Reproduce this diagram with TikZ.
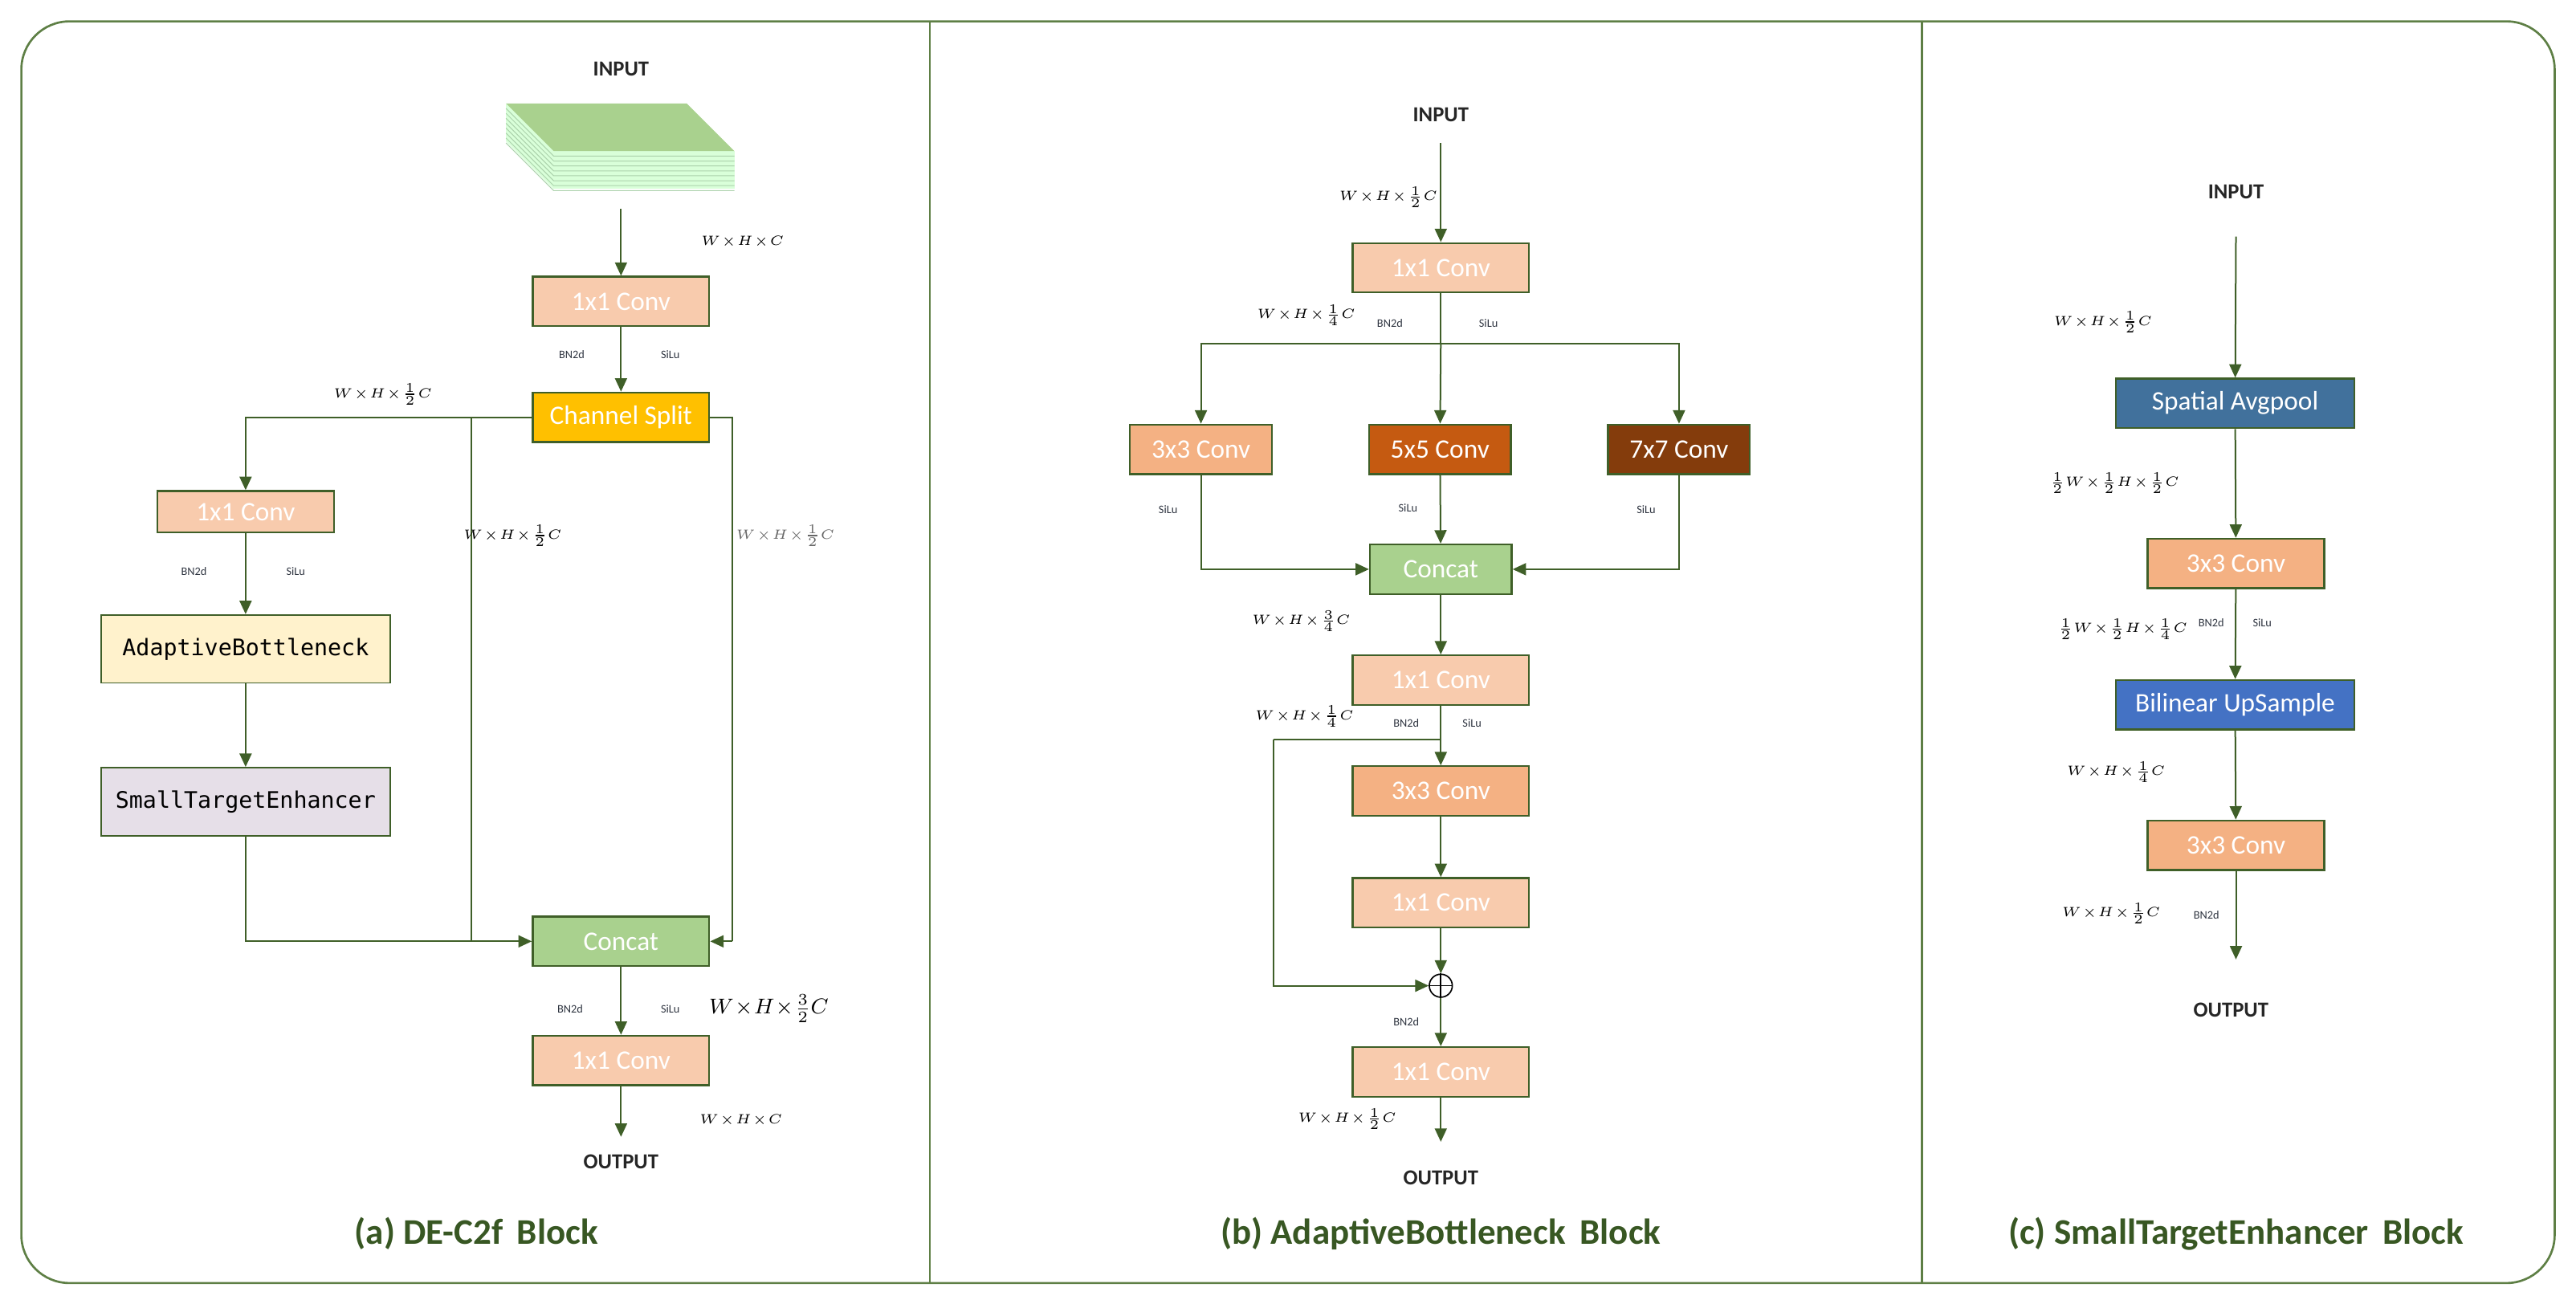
\documentclass[tikz,border=0pt]{standalone}
\usepackage{fontspec}
\setmainfont{Carlito}
\newfontfamily\monof{DejaVu Sans Mono}
\usetikzlibrary{arrows.meta}
\definecolor{frame}{HTML}{5E7F45}
\definecolor{arr}{HTML}{3F5F28}
\definecolor{peach}{HTML}{F8CBAD}
\definecolor{orange1}{HTML}{F4B183}
\definecolor{orange2}{HTML}{C55A11}
\definecolor{brown1}{HTML}{843C0C}
\definecolor{gold}{HTML}{FFC000}
\definecolor{lgreen}{HTML}{A9D18E}
\definecolor{cream}{HTML}{FFF2CC}
\definecolor{lav}{HTML}{E6DFE8}
\definecolor{steel}{HTML}{41719C}
\definecolor{blue1}{HTML}{4472C4}
\definecolor{ttl}{HTML}{385723}
\definecolor{tiny}{HTML}{2E3440}
\begin{document}
\begin{tikzpicture}[x=0.614pt,y=-0.614pt,
  box/.style={draw=arr,line width=0.7pt,text=white,font=\fontsize{10}{12}\selectfont,minimum height=18.5pt,inner sep=0pt},
  mbox/.style={draw=arr,line width=0.5pt,text=black,font=\monof\fontsize{8.5}{10}\selectfont,minimum height=25.5pt,minimum width=108pt,inner sep=0pt},
  ln/.style={draw=arr,line width=0.6pt},
  ar/.style={ln,-{Triangle[width=4.5pt,length=5pt]}},
  hd/.style={font=\bfseries\fontsize{8}{10}\selectfont,text=black!85},
  tl/.style={font=\bfseries\fontsize{13.5}{15}\selectfont,text=ttl},
  sm/.style={font=\fontsize{4.3}{5}\selectfont,text=tiny,inner sep=1pt},
  mt/.style={font=\fontsize{4.4}{5}\selectfont,inner sep=1pt},
]
\useasboundingbox (0,0) rectangle (1568,791);
% frame
\draw[frame,line width=0.8pt,rounded corners=18pt] (13,13) rectangle (1555,781);
\draw[frame,line width=0.8pt] (566,13) -- (566,781);
\draw[frame,line width=0.8pt] (1170,13) -- (1170,781);

% ================= (a)
\node[hd] (ain) at (378,42) {INPUT};
% feature stack
\fill[green!15!white] (308,63) -- (337,92) -- (337,115) -- (308,86) -- cycle;
\fill[green!15!white] (337,92) rectangle (447,115);
\foreach \k in {0,3,...,21}{
  \draw[green!30!gray!50,line width=0.3pt] (308,66+\k) -- (337,95+\k) -- (447,95+\k);}
\fill[lgreen] (308,63) -- (418,63) -- (447,92) -- (337,92) -- cycle;
\coordinate (astk) at (378,127);
\node[box,fill=peach,minimum width=66pt] (ac1) at (378,183.5) {1x1 Conv};
\draw[ar] (astk) -- (ac1);
\node[mt] at (452,147) {$W\!\times\! H\!\times\! C$};
\node[sm] at (348,216) {BN2d};
\node[sm] at (408,216) {SiLu};
\node[box,fill=gold,minimum width=66pt] (asp) at (378,254) {Channel Split};
\draw[ar] (ac1) -- (asp);
\node[mt] at (233,240) {$W\!\times\! H\!\times\!\frac{1}{2}C$};
\node[box,fill=peach,minimum width=66pt,minimum height=15.5pt] (ac2) at (149.5,311.5) {1x1 Conv};
\draw[ar] (asp.west) -| (ac2.north);
\node[sm] at (118,348) {BN2d};
\node[sm] at (180,348) {SiLu};
\node[mbox,fill=cream] (aab) at (149.5,395) {AdaptiveBottleneck};
\draw[ar] (ac2) -- (aab);
\node[mbox,fill=lav] (aste) at (149.5,488) {SmallTargetEnhancer};
\draw[ar] (aab) -- (aste);
\node[box,fill=lgreen,minimum width=66pt] (acat) at (378,573) {Concat};
\draw[ar] (aste.south) |- (acat.west);
\coordinate (aj) at (287,254);
\coordinate (aj2) at (287,573);
\draw[ln] (aj) -- (aj2);
\coordinate (ar1) at (446,254);
\coordinate (ar2) at (446,573);
\draw[ln] (asp.east) -- (ar1) -- (ar2);
\draw[ar] (ar2) -- (acat.east);
\node[mt] at (312,326) {$W\!\times\! H\!\times\!\frac{1}{2}C$};
\node[mt,font=\fontsize{3.4}{4}\selectfont,text=black!60] at (478,326) {$W\!\times\! H\!\times\!\frac{1}{2}C$};
\node[sm] at (347,614) {BN2d};
\node[sm] at (408,614) {SiLu};
\node[font=\fontsize{8.5}{10}\selectfont,inner sep=1pt] at (468,614) {$W\!\times\! H\!\times\!\frac{3}{2}C$};
\node[box,fill=peach,minimum width=66pt] (ac3) at (378,645.5) {1x1 Conv};
\draw[ar] (acat) -- (ac3);
\coordinate (aout) at (378,692);
\draw[ar] (ac3) -- (aout);
\node[mt] at (451,682) {$W\!\times\! H\!\times\! C$};
\node[hd] (aot) at (378,707) {OUTPUT};
\node[tl] (at) at (290,751) {(a) DE-C2f\, Block};

% ================= (b)
\node[hd] (bin) at (877,70) {INPUT};
\coordinate (bs) at (877,87);
\node[box,fill=peach,minimum width=66pt] (bc1) at (877,163) {1x1 Conv};
\draw[ar] (bs) -- (bc1);
\node[mt] at (845,120) {$W\!\times\! H\!\times\!\frac{1}{2}C$};
\node[mt] at (795,192) {$W\!\times\! H\!\times\!\frac{1}{4}C$};
\node[sm] at (846,197) {BN2d};
\node[sm] at (906,197) {SiLu};
\node[box,fill=orange1,minimum width=53pt] (b3) at (731,273.5) {3x3 Conv};
\node[box,fill=orange2,minimum width=53pt] (b5) at (876.5,273.5) {5x5 Conv};
\node[box,fill=brown1,minimum width=53pt] (b7) at (1022,273.5) {7x7 Conv};
\coordinate (bj) at (877,209);
\draw[ln] (bc1) -- (bj);
\draw[ar] (bj) -- (b5);
\draw[ar] (bj) -| (b3.north);
\draw[ar] (bj) -| (b7.north);
\node[sm] at (711,310) {SiLu};
\node[sm] at (857,309) {SiLu};
\node[sm] at (1002,310) {SiLu};
\node[box,fill=lgreen,minimum width=53pt] (bcat) at (877,346.5) {Concat};
\draw[ar] (b5) -- (bcat);
\draw[ar] (b3.south) |- (bcat.west);
\draw[ar] (b7.south) |- (bcat.east);
\node[mt] at (792,378) {$W\!\times\! H\!\times\!\frac{3}{4}C$};
\node[box,fill=peach,minimum width=66pt] (bc2) at (877,414) {1x1 Conv};
\draw[ar] (bcat) -- (bc2);
\node[mt] at (794,436) {$W\!\times\! H\!\times\!\frac{1}{4}C$};
\node[sm] at (856,440) {BN2d};
\node[sm] at (896,440) {SiLu};
\node[box,fill=orange1,minimum width=66pt] (bc3) at (877,481.5) {3x3 Conv};
\draw[ar] (bc2) -- (bc3);
\node[box,fill=peach,minimum width=66pt] (bc4) at (877,549.5) {1x1 Conv};
\draw[ar] (bc3) -- (bc4);
\node[circle,draw=black,line width=0.5pt,minimum size=8.6pt,inner sep=0pt] (bplus) at (877,600) {};
\draw[line width=0.5pt] (bplus.north) -- (bplus.south) (bplus.west) -- (bplus.east);
\draw[ar] (bc4) -- (bplus);
\coordinate (bk1) at (877,450);
\coordinate (bk2) at (775,450);
\draw[ln] (bk1) -- (bk2);
\draw[ar] (bk2) |- (bplus.west);
\node[sm] at (856,622) {BN2d};
\node[box,fill=peach,minimum width=66pt] (bc5) at (877,652.5) {1x1 Conv};
\draw[ar] (bplus) -- (bc5);
\coordinate (bout) at (877,695);
\draw[ar] (bc5) -- (bout);
\node[mt] at (820,681) {$W\!\times\! H\!\times\!\frac{1}{2}C$};
\node[hd] (bot) at (877,717) {OUTPUT};
\node[tl] (bt) at (877,751) {(b) AdaptiveBottleneck\, Block};

% ================= (c)
\node[hd] (cin) at (1361,117) {INPUT};
\coordinate (cs) at (1361,144);
\node[box,fill=steel,minimum width=89pt] (csp) at (1360.5,245.5) {Spatial Avgpool};
\draw[ar] (cs) -- (csp);
\node[mt] at (1280,196) {$W\!\times\! H\!\times\!\frac{1}{2}C$};
\node[mt] at (1287,294) {$\frac{1}{2}W\!\times\!\frac{1}{2}H\!\times\!\frac{1}{2}C$};
\node[box,fill=orange1,minimum width=66pt] (cc1) at (1361,343) {3x3 Conv};
\draw[ar] (csp) -- (cc1);
\node[mt] at (1292,383) {$\frac{1}{2}W\!\times\!\frac{1}{2}H\!\times\!\frac{1}{4}C$};
\node[sm] at (1346,379) {BN2d};
\node[sm] at (1377,379) {SiLu};
\node[box,fill=blue1,minimum width=89pt] (cbu) at (1360.5,429) {Bilinear UpSample};
\draw[ar] (cc1) -- (cbu);
\node[mt] at (1288,470) {$W\!\times\! H\!\times\!\frac{1}{4}C$};
\node[box,fill=orange1,minimum width=66pt] (cc2) at (1361,514.5) {3x3 Conv};
\draw[ar] (cbu) -- (cc2);
\node[mt] at (1285,556) {$W\!\times\! H\!\times\!\frac{1}{2}C$};
\node[sm] at (1343,557) {BN2d};
\coordinate (cout) at (1361,584);
\draw[ar] (cc2) -- (cout);
\node[hd] (cot) at (1358,615) {OUTPUT};
\node[tl] (ct) at (1361,751) {(c) SmallTargetEnhancer\, Block};
\end{tikzpicture}
\end{document}
